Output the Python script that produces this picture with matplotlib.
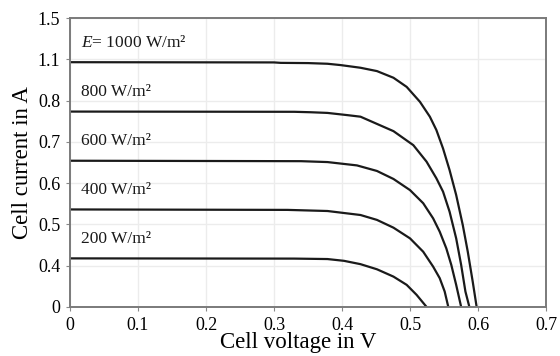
import numpy as np
import matplotlib
matplotlib.use("Agg")
import matplotlib.pyplot as plt

plt.rcParams['font.family'] = ['Liberation Serif', 'DejaVu Serif']
plt.rcParams['mathtext.fontset'] = 'custom'
plt.rcParams['mathtext.rm'] = 'Liberation Serif'
plt.rcParams['mathtext.it'] = 'Liberation Serif:italic'

# I-V curves (voltage in V, current in A)
v1000 = [0, 0.300, 0.310, 0.350, 0.3786, 0.398, 0.4272, 0.4514, 0.4757, 0.4951, 0.5146, 0.5292,
         0.5388, 0.5486, 0.5582, 0.5679, 0.5776, 0.5849, 0.5922, 0.5980]
i1000 = [1.100, 1.099, 1.097, 1.096, 1.093, 1.087, 1.075, 1.060, 1.030, 0.989, 0.922, 0.855,
         0.795, 0.712, 0.615, 0.503, 0.368, 0.249, 0.114, 0]

v800 = [0, 0.330, 0.354, 0.3786, 0.408, 0.4272, 0.4757, 0.5049, 0.5243, 0.5388, 0.5486, 0.5582,
        0.5679, 0.5752, 0.5815, 0.5873]
i800 = [0.878, 0.877, 0.875, 0.872, 0.862, 0.855, 0.790, 0.727, 0.653, 0.578, 0.518, 0.428,
        0.308, 0.189, 0.069, 0]

v600 = [0, 0.340, 0.3786, 0.422, 0.4514, 0.4757, 0.5000, 0.5194, 0.5340, 0.5437,
        0.5534, 0.5607, 0.5679, 0.5752]
i600 = [0.657, 0.655, 0.651, 0.636, 0.611, 0.575, 0.525, 0.466, 0.398, 0.338,
        0.263, 0.189, 0.099, 0]

v400 = [0, 0.320, 0.3786, 0.4272, 0.4514, 0.4757, 0.5000, 0.5194, 0.5340, 0.5437,
        0.5510, 0.5563]
i400 = [0.438, 0.436, 0.431, 0.413, 0.391, 0.356, 0.308, 0.248, 0.181, 0.129,
        0.069, 0]

v200 = [0, 0.330, 0.3786, 0.4029, 0.4272, 0.4514, 0.4757, 0.4951, 0.5097, 0.5243]
i200 = [0.218, 0.217, 0.215, 0.207, 0.192, 0.169, 0.136, 0.099, 0.054, 0]

curves = [(v1000, i1000), (v800, i800), (v600, i600), (v400, i400), (v200, i200)]
curve_labels = ['$E$= 1000 W/m²', '800 W/m²', '600 W/m²', '400 W/m²', '200 W/m²']

x_ticks = [0, 0.1, 0.2, 0.3, 0.4, 0.5, 0.6, 0.7]
x_tick_labels = ['0', '0.1', '0.2', '0.3', '0.4', '0.5', '0.6', '0.7']
# the source figure prints these labels at evenly spaced gridlines
y_tick_labels = ['0', '0.4', '0.5', '0.6', '0.7', '0.8', '1.1', '1.5']
y_top = 1.298

fig = plt.figure(figsize=(5.6, 3.56), dpi=100)
ax = fig.add_axes([0.125, 0.138, 0.85, 0.811])

for (v, i), lab in zip(curves, curve_labels):
    ax.plot(v, i, color='#1a1a1a', lw=1.6, solid_joinstyle='round')
    ax.annotate(lab, xy=(0, i[0]), xytext=(8, 14), textcoords='offset points',
                fontsize=12.5, va='center', ha='left', color='#1a1a1a')

ax.set_xlim(0, 0.7)
ax.set_ylim(0, y_top)
ax.set_xticks(x_ticks)
ax.set_xticklabels(x_tick_labels)
ax.set_yticks(np.linspace(0, y_top, len(y_tick_labels)))
ax.set_yticklabels(y_tick_labels)
ax.tick_params(axis='both', labelsize=13, length=3, color='#888888', pad=4)
ax.grid(True, color='#ececec', lw=1)
ax.set_axisbelow(True)
for s in ax.spines.values():
    s.set_color('#7a7a7a')
    s.set_linewidth(1.4)

ax.set_xlabel('Cell voltage in V', fontsize=16.5, labelpad=-1, x=0.48)
ax.set_ylabel('Cell current in A', fontsize=16.5, labelpad=3)

fig.savefig('out.png', dpi=100)
